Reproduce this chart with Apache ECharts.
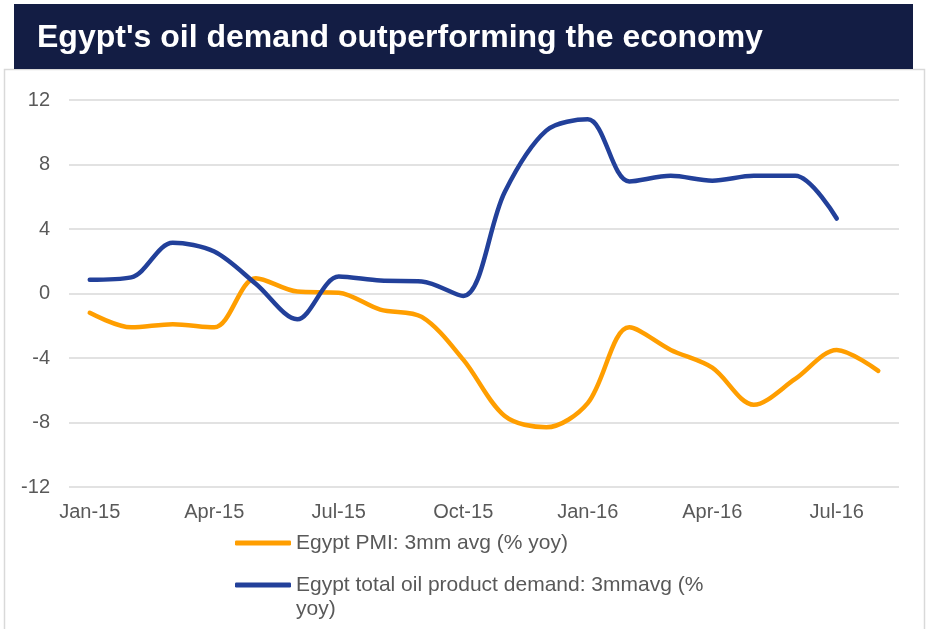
<!DOCTYPE html>
<html>
<head>
<meta charset="utf-8">
<script src="https://cdn.jsdelivr.net/npm/echarts@6/dist/echarts.min.js"></script>
<style>
html,body{margin:0;padding:0;background:#fff;}
#chart{width:930px;height:629px;}
</style>
</head>
<body>
<div id="chart"></div>
<script>
const titleText = "Egypt's oil demand outperforming the economy";
const months = ["Jan-15","Feb-15","Mar-15","Apr-15","May-15","Jun-15","Jul-15","Aug-15","Sep-15","Oct-15","Nov-15","Dec-15",
  "Jan-16","Feb-16","Mar-16","Apr-16","May-16","Jun-16","Jul-16","Aug-16"];
const pmiName = "Egypt PMI: 3mm avg (% yoy)";
const oilName = "Egypt total oil product demand: 3mmavg (% yoy)";
const pmiValues = [-1.2, -2.1, -1.9, -2.1, 0.95, 0.12, 0.05, -1.0, -1.45, -4.1, -7.6, -8.3, -6.8, -2.1, -3.5, -4.6, -6.9, -5.3, -3.5, -4.8];
const oilValues = [0.85, 1.0, 3.15, 2.6, 0.6, -1.6, 1.05, 0.8, 0.75, -0.15, 6.3, 10.1, 10.8, 6.95, 7.3, 7.0, 7.3, 7.3, 4.65];
const yTicks = {min: -12, max: 12, step: 4};

const chart = echarts.init(document.getElementById('chart'), null, {renderer: 'canvas'});
const font = 'Liberation Sans, Arial, sans-serif';
chart.setOption({
  animation: false,
  backgroundColor: '#ffffff',
  title: {
    text: titleText,
    left: 37, top: 21, padding: 0,
    textStyle: {color: '#ffffff', fontSize: 32, fontWeight: 'bold', fontFamily: font, lineHeight: 34}
  },
  graphic: [
    {type: 'rect', z: -10, shape: {x: 4.5, y: 69.5, width: 920, height: 580}, style: {fill: 'none', stroke: '#d9d9d9', lineWidth: 1.5}},
    {type: 'rect', z: -5, shape: {x: 14, y: 4, width: 899, height: 65}, style: {fill: '#131d44'}}
  ],
  grid: {left: 69, right: 31, top: 100, bottom: 142, containLabel: false},
  legend: [
    {
      data: [pmiName], orient: 'vertical', left: 235, top: 531, padding: 0,
      icon: 'roundRect', itemWidth: 56, itemHeight: 5,
      textStyle: {color: '#595959', fontSize: 21, fontFamily: font, lineHeight: 24}
    },
    {
      data: [oilName], orient: 'vertical', left: 235, top: 549, padding: 0,
      icon: 'roundRect', itemWidth: 56, itemHeight: 5,
      formatter: function (n) { return '\n' + n.replace('(% yoy)', '(%\nyoy)'); },
      textStyle: {color: '#595959', fontSize: 21, fontFamily: font, lineHeight: 24}
    }
  ],
  xAxis: {
    type: 'category', data: months, boundaryGap: true,
    axisLine: {show: false}, axisTick: {show: false},
    axisLabel: {interval: 2, color: '#595959', fontSize: 20, fontFamily: font, margin: 15}
  },
  yAxis: {
    type: 'value', min: yTicks.min, max: yTicks.max, interval: yTicks.step,
    axisLine: {show: false}, axisTick: {show: false},
    axisLabel: {color: '#595959', fontSize: 20, fontFamily: font, margin: 19},
    splitLine: {lineStyle: {color: '#d9d9d9', width: 1.5}}
  },
  series: [
    {
      name: pmiName, type: 'line', data: pmiValues, smooth: 0.32, showSymbol: false,
      lineStyle: {color: '#ff9e00', width: 4.5, cap: 'round'}, itemStyle: {color: '#ff9e00'}
    },
    {
      name: oilName, type: 'line', data: oilValues, smooth: 0.32, showSymbol: false,
      lineStyle: {color: '#22409a', width: 4.5, cap: 'round'}, itemStyle: {color: '#22409a'}
    }
  ]
});
</script>
</body>
</html>
